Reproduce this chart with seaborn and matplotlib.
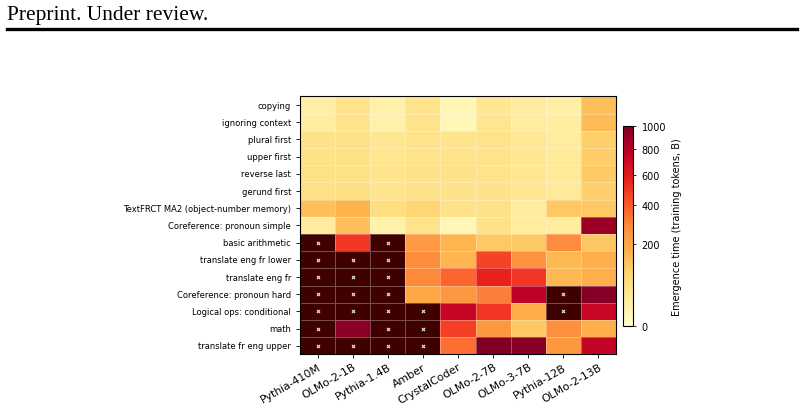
import numpy as np
import pandas as pd
import matplotlib
matplotlib.use("Agg")
import matplotlib.pyplot as plt
import matplotlib.colors as mcolors
from matplotlib.lines import Line2D
import seaborn as sns

# emergence time in training tokens (B); None = never emerged
tasks = [
    "copying", "ignoring context", "plural first", "upper first", "reverse last",
    "gerund first", "TextFRCT MA2 (object-number memory)", "Coreference: pronoun simple",
    "basic arithmetic", "translate eng fr lower", "translate eng fr",
    "Coreference: pronoun hard", "Logical ops: conditional", "math",
    "translate fr eng upper",
]
models = ["Pythia-410M", "OLMo-2-1B", "Pythia-1.4B", "Amber", "CrystalCoder",
          "OLMo-2-7B", "OLMo-3-7B", "Pythia-12B", "OLMo-2-13B"]

pythia_410m = [20, 22, 52, 52, 54, 56, 140, 25, None, None, None, None, None, None, None]
olmo2_1b = [48, 48, 55, 56, 56, 62, 170, 135, 495, None, None, None, None, 960, None]
pythia_1_4b = [15, 14, 40, 42, 45, 45, 65, 15, None, None, None, None, None, None, None]
amber = [48, 48, 48, 48, 50, 50, 85, 48, 240, 285, 290, 200, None, None, None]
crystalcoder = [8, 6, 46, 48, 50, 50, 50, 8, 160, 160, 370, 255, 740, 470, 350]
olmo2_7b = [40, 42, 48, 48, 48, 50, 52, 50, 115, 460, 565, 315, 500, 245, 990]
olmo3_7b = [25, 25, 38, 40, 40, 42, 25, 25, 115, 260, 500, 775, 190, 115, 970]
pythia_12b = [18, 22, 26, 30, 30, 30, 115, 25, 285, 155, 155, None, None, 275, 250]
olmo2_13b = [140, 145, 100, 105, 110, 100, 115, 900, 120, 180, 175, 980, 730, 180, 750]

cbar_ticks = [0, 200, 400, 600, 800, 1000]


def main():
    cols = [pythia_410m, olmo2_1b, pythia_1_4b, amber, crystalcoder,
            olmo2_7b, olmo3_7b, pythia_12b, olmo2_13b]
    df = pd.DataFrame({m: np.array(c, dtype=float) for m, c in zip(models, cols)},
                      index=tasks)
    missing = df.isna()
    # not-emerged cells drawn with the "over" colour
    plot_df = df.fillna(2000.0)

    cmap = plt.get_cmap("YlOrRd").copy()
    cmap.set_over("#3f0000")
    norm = mcolors.PowerNorm(gamma=0.55, vmin=0, vmax=1000)

    fig = plt.figure(figsize=(8.04, 4.06), dpi=100)
    ax = fig.add_axes([0.3731, 0.1244, 0.3931, 0.6355])
    cax = fig.add_axes([0.7745, 0.1938, 0.0132, 0.494])

    sns.heatmap(plot_df, ax=ax, cbar_ax=cax, cmap=cmap, norm=norm,
                linewidths=0.5, linecolor=(1, 1, 1, 0.3),
                xticklabels=True, yticklabels=True)

    # mark never-emerged cells
    rr, cc = np.where(missing.values)
    ax.scatter(cc + 0.5, rr + 0.5, marker="x", s=5, color="white",
               linewidths=0.8, alpha=0.9, zorder=3)

    for s in ax.spines.values():
        s.set_visible(True)
        s.set_color("black")
        s.set_linewidth(0.8)
    ax.tick_params(axis="y", labelsize=6, length=3, width=0.6)
    ax.tick_params(axis="x", labelsize=7.8, length=3, width=0.6, pad=2)
    plt.setp(ax.get_xticklabels(), rotation=30, ha="right", rotation_mode="anchor")
    plt.setp(ax.get_yticklabels(), rotation=0)
    ax.set_xlabel("")
    ax.set_ylabel("")

    cb = ax.collections[0].colorbar
    cb.outline.set_visible(True)
    cb.outline.set_linewidth(0.8)
    cb.set_ticks(cbar_ticks)
    cb.ax.tick_params(labelsize=7, length=2.5, width=0.6)
    cb.set_label("Emergence time (training tokens, B)", fontsize=7)

    # page header
    fig.text(0.009, 1 - 20 / 406, "Preprint. Under review.", fontsize=15.5,
             family="Liberation Serif", va="baseline", ha="left")
    fig.add_artist(Line2D([0.009, 0.991], [1 - 30 / 406, 1 - 30 / 406], color="black",
                          linewidth=2.4, transform=fig.transFigure))

    fig.savefig("out.png", dpi=100)


if __name__ == "__main__":
    main()
